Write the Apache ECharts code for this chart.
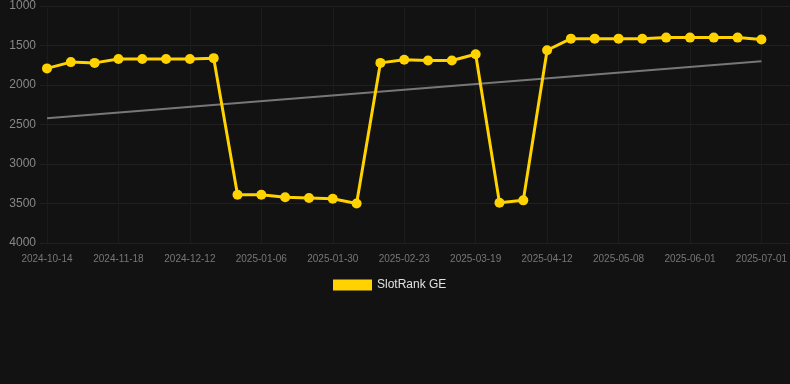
<!DOCTYPE html>
<html>
<head>
<meta charset="utf-8">
<script src="https://cdn.jsdelivr.net/npm/echarts@6/dist/echarts.min.js"></script>
<style>
html,body{margin:0;padding:0;background:#121212;}
#c{width:790px;height:384px;}
</style>
</head>
<body>
<div id="c"></div>
<script>
var dates = ["2024-10-14","2024-10-26","2024-11-06","2024-11-18","2024-11-26","2024-12-04","2024-12-12","2024-12-20","2024-12-29","2025-01-06","2025-01-14","2025-01-22","2025-01-30","2025-02-07","2025-02-15","2025-02-23","2025-03-03","2025-03-11","2025-03-19","2025-03-27","2025-04-04","2025-04-12","2025-04-20","2025-04-29","2025-05-08","2025-05-16","2025-05-24","2025-06-01","2025-06-11","2025-06-21","2025-07-01"];
var rankGE = [1790,1710,1720,1670,1670,1670,1670,1660,3390,3390,3420,3430,3440,3500,1720,1680,1690,1690,1610,3490,3460,1560,1413,1413,1413,1415,1400,1400,1400,1400,1425];
var trendStart = 2420;
var trendEnd = 1700;
var yTicks = [1000,1500,2000,2500,3000,3500,4000];

var trend = dates.map(function(d,i){ return i===0 ? trendStart : (i===dates.length-1 ? trendEnd : null); });
var yMin = yTicks[0], yMax = yTicks[yTicks.length-1];
var font = 'Arial, Liberation Sans, sans-serif';

var chart = echarts.init(document.getElementById('c'));
chart.setOption({
  backgroundColor:'#121212',
  animation:false,
  grid:[
    {left:40,right:0,top:6,bottom:141},
    {left:47,right:28,top:6,bottom:141}
  ],
  legend:{
    top:274,left:328,
    data:['SlotRank GE'],
    icon:'rect',itemWidth:39,itemHeight:11,itemGap:10,
    textStyle:{color:'#e0e0e0',fontSize:12,fontFamily:font}
  },
  xAxis:[
    {gridIndex:0,type:'value',min:0,max:1,show:false},
    {
      gridIndex:1,type:'category',data:dates,boundaryGap:false,
      axisLine:{show:false},axisTick:{show:false},
      axisLabel:{interval:2,color:'#777',fontSize:10,margin:11,fontFamily:font},
      splitLine:{show:true,interval:2,lineStyle:{color:'#1c1c1c'}}
    }
  ],
  yAxis:[
    {
      gridIndex:0,type:'value',inverse:true,min:yMin,max:yMax,interval:500,
      axisLine:{show:false},axisTick:{show:false},
      axisLabel:{color:'#888',fontSize:12,margin:4,fontFamily:font,formatter:function(v){return String(v);}},
      splitLine:{lineStyle:{color:'#202020'}}
    },
    {
      gridIndex:1,type:'value',inverse:true,min:yMin,max:yMax,interval:500,
      axisLine:{show:false},axisTick:{show:false},axisLabel:{show:false},splitLine:{show:false}
    }
  ],
  series:[
    {
      name:'Trend',type:'line',xAxisIndex:1,yAxisIndex:1,data:trend,connectNulls:true,showSymbol:false,symbol:'none',
      lineStyle:{color:'#777',width:2},itemStyle:{color:'#777'},z:1
    },
    {
      name:'SlotRank GE',type:'line',xAxisIndex:1,yAxisIndex:1,data:rankGE,
      symbol:'circle',symbolSize:10,
      lineStyle:{color:'#ffd200',width:3},itemStyle:{color:'#ffd200'},z:2
    }
  ]
});
</script>
</body>
</html>
